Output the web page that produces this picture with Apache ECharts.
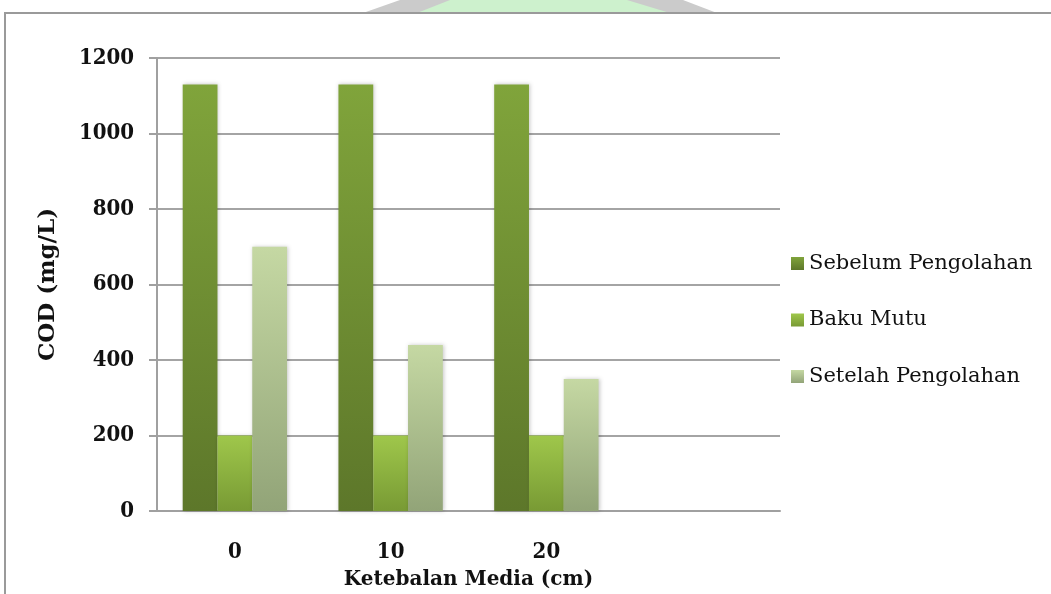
<!DOCTYPE html>
<html>
<head>
<meta charset="utf-8">
<script src="https://cdn.jsdelivr.net/npm/echarts@6/dist/echarts.min.js"></script>
<style>
  html, body { margin: 0; padding: 0; background: #ffffff; }
  #chart { width: 1051px; height: 594px; }
</style>
</head>
<body>
<div id="chart"></div>
<script>
// Media thickness categories (last slot left empty)
const categories = ['0', '10', '20', ''];
// COD values (mg/L)
const sebelum = [1130, 1130, 1130, null];
const bakuMutu = [200, 200, 200, null];
const setelah = [700, 440, 350, null];
const seriesNames = ['Sebelum Pengolahan', 'Baku Mutu', 'Setelah Pengolahan'];
const yTicks = { min: 0, max: 1200, interval: 200 };

const serifCond = "'DejaVu Serif Condensed', 'DejaVu Serif', serif";
const serif = "'DejaVu Serif', serif";

function grad(top, bottom) {
  return new echarts.graphic.LinearGradient(0, 0, 0, 1, [
    { offset: 0, color: top },
    { offset: 1, color: bottom }
  ]);
}

function barSeries(name, data, top, bottom) {
  return {
    name: name,
    type: 'bar',
    data: data,
    barGap: '0%',
    barCategoryGap: '33%',
    itemStyle: {
      color: grad(top, bottom),
      shadowBlur: 4,
      shadowColor: 'rgba(0,0,0,0.22)',
      shadowOffsetX: 1
    },
    emphasis: { disabled: true }
  };
}

const chart = echarts.init(document.getElementById('chart'));
chart.setOption({
  animation: false,
  backgroundColor: '#ffffff',
  graphic: [
    // decorative band above the frame
    { type: 'polygon', z: 0, shape: { points: [[363, 13], [717, 13], [683, 0], [400, 0]] },
      style: { fill: '#cbcbcb' } },
    { type: 'polygon', z: 1, shape: { points: [[417, 13], [670, 13], [627, 0], [450, 0]] },
      style: { fill: '#cdf1cd' } },
    // frame
    { type: 'polyline', z: 2, shape: { points: [[5, 594], [5, 13], [1051, 13]] },
      style: { stroke: '#9a9a9a', lineWidth: 2, fill: null } }
  ],
  grid: { left: 157, top: 58, right: 271, bottom: 83, outerBoundsMode: 'none', containLabel: false },
  legend: {
    orient: 'vertical',
    left: 786,
    top: 248,
    icon: 'rect',
    itemWidth: 13,
    itemHeight: 13,
    itemGap: 35.5,
    data: seriesNames,
    textStyle: { fontFamily: serif, fontSize: 21, color: '#111' }
  },
  xAxis: {
    type: 'category',
    data: categories,
    name: 'Ketebalan Media (cm)',
    nameLocation: 'middle',
    nameGap: 59,
    nameTextStyle: { fontFamily: serif, fontWeight: 'bold', fontSize: 20, color: '#111' },
    axisLine: { show: true, lineStyle: { color: '#a0a0a0', width: 2 } },
    axisTick: { show: false },
    axisLabel: { margin: 30, fontFamily: serifCond, fontWeight: 'bold', fontSize: 22, color: '#111' }
  },
  yAxis: {
    type: 'value',
    min: yTicks.min,
    max: yTicks.max,
    interval: yTicks.interval,
    name: 'COD (mg/L)',
    nameLocation: 'middle',
    nameGap: 97,
    nameRotate: 90,
    nameTextStyle: { fontFamily: serif, fontWeight: 'bold', fontSize: 23, color: '#111' },
    axisLine: { show: true, lineStyle: { color: '#a0a0a0', width: 2 } },
    axisTick: { show: true, length: 8, lineStyle: { color: '#a0a0a0', width: 2 } },
    axisLabel: {
      margin: 23, fontFamily: serifCond, fontWeight: 'bold', fontSize: 22, color: '#111',
      formatter: function (v) { return String(v); }
    },
    splitLine: { show: true, lineStyle: { color: '#a4a4a4', width: 2 } }
  },
  series: [
    barSeries(seriesNames[0], sebelum, '#80a43b', '#5d772a'),
    barSeries(seriesNames[1], bakuMutu, '#9fc74b', '#789a34'),
    barSeries(seriesNames[2], setelah, '#c5d8a3', '#92a478')
  ]
});
</script>
</body>
</html>
